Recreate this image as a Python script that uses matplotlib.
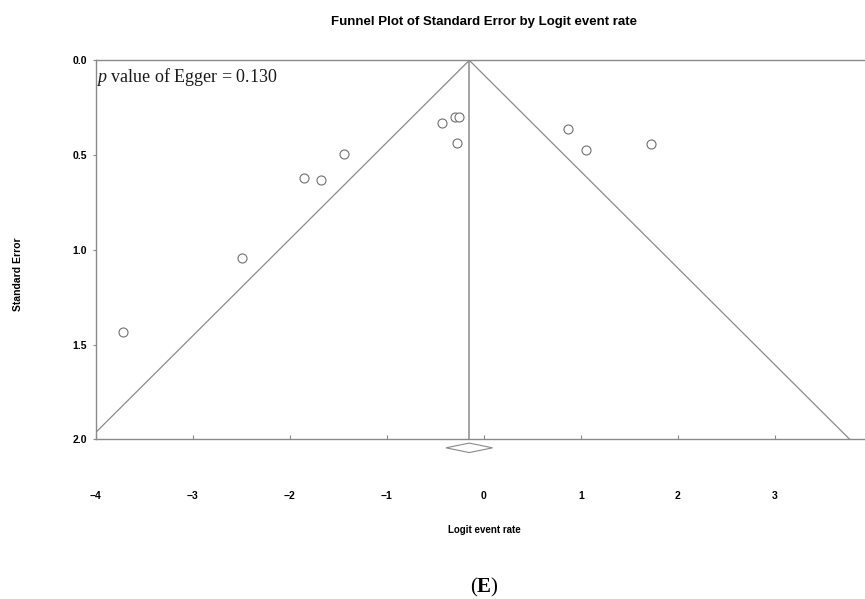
import numpy as np
import matplotlib
matplotlib.use("Agg")
import matplotlib.pyplot as plt

# Study estimates
logit_rate = [-3.72, -2.49, -1.85, -1.68, -1.44, -0.43, -0.30, -0.26, -0.28, 0.87, 1.05, 1.72]
std_error = [1.433, 1.042, 0.620, 0.630, 0.496, 0.332, 0.299, 0.299, 0.438, 0.360, 0.472, 0.441]
pooled_logit = -0.15
pooled_half_width = 0.24
x_ticks = [-4, -3, -2, -1, 0, 1, 2, 3]
y_ticks = [0.0, 0.5, 1.0, 1.5, 2.0]
egger_p = "0.130"

plt.rcParams['mathtext.fontset'] = 'custom'
plt.rcParams['mathtext.it'] = 'Liberation Serif:italic'
plt.rcParams['mathtext.rm'] = 'Liberation Serif'
plt.rcParams['mathtext.bf'] = 'Liberation Serif:bold'

grey = '#8a8a8a'
sans = 'Liberation Sans'

fig = plt.figure(figsize=(8.65, 5.99), dpi=100)
ax = fig.add_axes([0.1106, 0.2666, 0.8975, 0.6327])

# funnel: pooled estimate +/- 1.96 SE
se_line = np.array([0.0, 2.0])
ax.plot(pooled_logit - 1.96 * se_line, se_line, color=grey, lw=0.9)
ax.plot(pooled_logit + 1.96 * se_line, se_line, color=grey, lw=0.9)
ax.plot([pooled_logit, pooled_logit], se_line, color=grey, lw=1.1)

ax.plot(logit_rate, std_error, 'o', ms=6.5, mfc='white', mec='#707070', mew=0.8, ls='none')

# pooled diamond under the axis
dx = pooled_half_width
ax.fill([pooled_logit - dx, pooled_logit, pooled_logit + dx, pooled_logit],
        [2.045, 2.02, 2.045, 2.07], facecolor='white', edgecolor=grey, lw=0.8,
        clip_on=False)

ax.set_xlim(-4, 4)
ax.set_ylim(2.0, 0.0)
ax.set_xticks(x_ticks)
ax.set_yticks(y_ticks)
ax.set_xticklabels([f"{t}".replace('-', '\u2212') for t in x_ticks],
                   fontfamily=sans, fontweight='bold', fontsize=7.5)
ax.set_yticklabels([f"{t:.1f}" for t in y_ticks], fontfamily=sans, fontweight='bold', fontsize=7.5)
ax.tick_params(axis='x', direction='in', length=3, pad=37, color=grey)
ax.tick_params(axis='y', direction='out', length=2, pad=4, color=grey)
for s in ax.spines.values():
    s.set_color(grey)
    s.set_linewidth(1.0)

ax.text(0.0, 0.956, r"$\mathit{p}$ value of Egger = " + egger_p, transform=ax.transAxes,
        fontfamily='Liberation Serif', fontsize=13, va='center', ha='left', color='#1a1a1a')

fig.text(484 / 865, 1 - 22 / 599, "Funnel Plot of Standard Error by Logit event rate",
         ha='center', va='center', fontfamily=sans, fontweight='bold', fontsize=9.5)
fig.text(484 / 865, 1 - 530 / 599, "Logit event rate", ha='center', va='center',
         fontfamily=sans, fontweight='bold', fontsize=7)
fig.text(18 / 865, 1 - 274 / 599, "Standard Error", ha='center', va='center', rotation=90,
         fontfamily=sans, fontweight='bold', fontsize=7.5)
fig.text(484 / 865, 1 - 587 / 599, r"($\mathbf{E}$)", ha='center', va='center',
         fontfamily='Liberation Serif', fontsize=15)

fig.savefig("out.png", dpi=100)
